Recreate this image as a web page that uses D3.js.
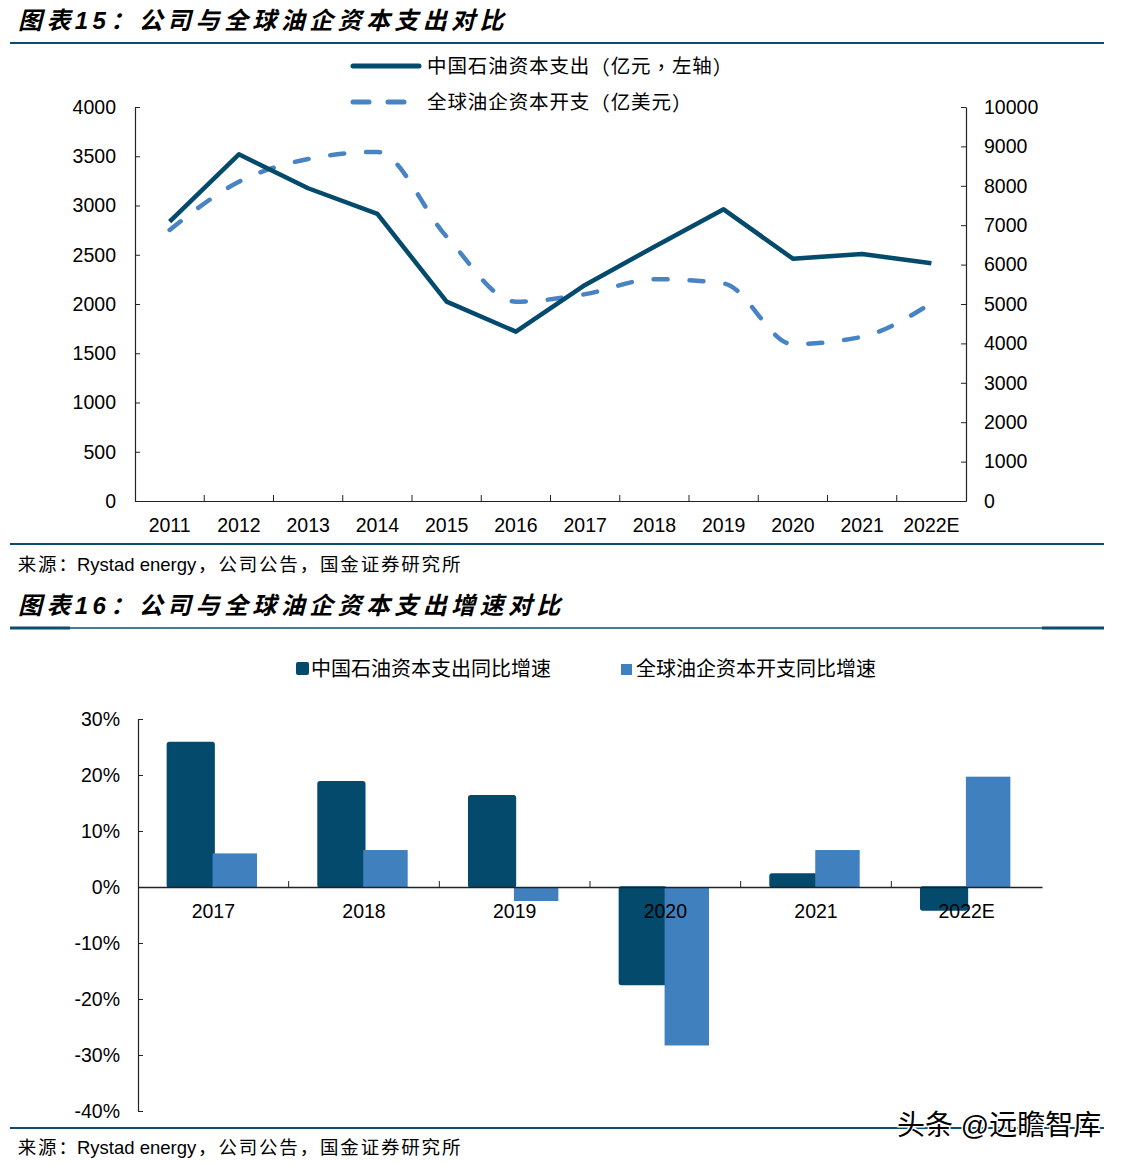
<!DOCTYPE html>
<html><head><meta charset="utf-8">
<script src="https://cdn.jsdelivr.net/npm/d3@7"></script>
<style>
body{margin:0;background:#fff;}
svg{display:block;}
text{font-family:"Liberation Sans","Noto Sans CJK SC",sans-serif;fill:#000;}
</style></head><body>
<svg id="c" width="1129" height="1164"></svg>
<script>
// ---- data ----
const years1 = ["2011","2012","2013","2014","2015","2016","2017","2018","2019","2020","2021","2022E"];
const petroChinaCapex = [2836,3520,3175,2914,2024,1719,2193,2582,2961,2460,2508,2413];   // 亿元, left axis
const globalCapex = [6880,8100,8680,8860,6710,5060,5250,5630,5520,3980,4170,5020];        // 亿美元, right axis
const leftTicks = [0,500,1000,1500,2000,2500,3000,3500,4000];
const rightTicks = [0,1000,2000,3000,4000,5000,6000,7000,8000,9000,10000];
const series1Names = ["中国石油资本支出（亿元，左轴）","全球油企资本开支（亿美元）"];

const years2 = ["2017","2018","2019","2020","2021","2022E"];
const petroChinaGrowth = [25.8,18.8,16.3,-17.4,2.3,-4.1];
const globalGrowth = [6.0,6.6,-2.5,-28.3,6.6,19.7];
const pctTicks = [-40,-30,-20,-10,0,10,20,30];
const series2Names = ["中国石油资本支出同比增速","全球油企资本开支同比增速"];

const title1 = "图表15：公司与全球油企资本支出对比";
const title2 = "图表16：公司与全球油企资本支出增速对比";
const sourceText = "来源：Rystad energy，公司公告，国金证券研究所";
const watermark = "头条 @远瞻智库";

const DARK = "#034a6c", LIGHT = "#4180bf", LINE2 = "#4884c4", RULE = "#0b4e72";
const svg = d3.select("#c");

// ---- headers / rules ----
function title(y, t){
  svg.append("text").attr("x",18).attr("y",y).attr("font-size",24).attr("font-weight","bold")
    .attr("font-style","italic").attr("letter-spacing",4.4).attr("dominant-baseline","central").text(t);
}
title(20, title1);
svg.append("line").attr("x1",10).attr("x2",1104).attr("y1",43).attr("y2",43).attr("stroke",RULE).attr("stroke-width",2);
svg.append("line").attr("x1",10).attr("x2",1104).attr("y1",544).attr("y2",544).attr("stroke",RULE).attr("stroke-width",2);
function source(y){
  const el = svg.append("text").attr("x",16).attr("y",y).attr("font-size",18.5)
    .attr("dominant-baseline","central").attr("fill","#111");
  for (const ch of sourceText){
    const ts = el.append("tspan").text(ch);
    if (ch.charCodeAt(0) > 255) ts.attr("dx",1.8);
  }
}
source(564);
title(605, title2);
svg.append("line").attr("x1",10).attr("x2",1104).attr("y1",628).attr("y2",628).attr("stroke",RULE).attr("stroke-width",1.5);
svg.append("line").attr("x1",10).attr("x2",70).attr("y1",628).attr("y2",628).attr("stroke",RULE).attr("stroke-width",3);
svg.append("line").attr("x1",1042).attr("x2",1104).attr("y1",628).attr("y2",628).attr("stroke",RULE).attr("stroke-width",3);
svg.append("line").attr("x1",10).attr("x2",1104).attr("y1",1128).attr("y2",1128).attr("stroke",RULE).attr("stroke-width",2);
source(1147);

// text with centred full-width punctuation (TC glyph forms for punctuation only)
function legendText(g, x, y, size, t){
  const el = g.append("text").attr("x",x).attr("y",y).attr("font-size",size).attr("letter-spacing",0.9)
    .attr("dominant-baseline","central");
  for (const ch of t){
    const ts = el.append("tspan").text(ch);
    if ("（），".includes(ch)) ts.attr("font-family","'Noto Sans CJK TC',sans-serif");
  }
}

// ---- chart 1 ----
const x1 = d3.scaleBand().domain(years1).range([135,966]).padding(0);
const yL = d3.scaleLinear().domain([0,4000]).range([501,107]);
const yR = d3.scaleLinear().domain([0,10000]).range([501,107]);
const g1 = svg.append("g");

const axL = g1.append("g").attr("transform","translate(135,0)")
  .call(d3.axisLeft(yL).tickValues(leftTicks).tickFormat(d3.format("d")).tickSizeInner(-5).tickSizeOuter(0).tickPadding(19));
const axR = g1.append("g").attr("transform","translate(966,0)")
  .call(d3.axisRight(yR).tickValues(rightTicks).tickFormat(d3.format("d")).tickSizeInner(-5).tickSizeOuter(0).tickPadding(18));
const axB = g1.append("g").attr("transform","translate(0,501)")
  .call(d3.axisBottom(x1).tickSize(0).tickPadding(17));
[axL,axR,axB].forEach(a=>{
  a.select(".domain").attr("stroke","#222").attr("stroke-width",1.2);
  a.selectAll(".tick line").attr("stroke","#222");
  a.selectAll("text").attr("font-size",19.5).attr("fill","#000")
   .attr("font-family","'Liberation Sans',sans-serif");
});
g1.selectAll(".bt").data(years1.slice(1)).join("line")
  .attr("x1",d=>x1(d)).attr("x2",d=>x1(d)).attr("y1",501).attr("y2",495).attr("stroke","#222");

const lineL = d3.line().x((d,i)=>x1(years1[i])+x1.bandwidth()/2).y(d=>yL(d));
const lineR = d3.line().x((d,i)=>x1(years1[i])+x1.bandwidth()/2).y(d=>yR(d)).curve(d3.curveMonotoneX);
g1.append("path").datum(globalCapex).attr("d",lineR).attr("fill","none").attr("stroke",LINE2)
  .attr("stroke-width",4.5).attr("stroke-dasharray","14,22").attr("stroke-linecap","round");
g1.append("path").datum(petroChinaCapex).attr("d",lineL).attr("fill","none").attr("stroke",DARK)
  .attr("stroke-width",4.5).attr("stroke-linejoin","round");

// legend 1
g1.append("line").attr("x1",353).attr("x2",419).attr("y1",66).attr("y2",66).attr("stroke",DARK).attr("stroke-width",5).attr("stroke-linecap","round");
g1.append("line").attr("x1",353).attr("x2",418).attr("y1",102).attr("y2",102).attr("stroke",LINE2).attr("stroke-width",5)
  .attr("stroke-linecap","round").attr("stroke-dasharray","16,19");
legendText(g1, 427, 66, 19.5, series1Names[0]);
legendText(g1, 427, 102, 19.5, series1Names[1]);

// ---- chart 2 ----
const x2 = d3.scaleBand().domain(years2).range([138,1042]).padding(0);
const y2 = d3.scaleLinear().domain([-40,30]).range([1111,719]);
const g2 = svg.append("g");
const bw = x2.bandwidth();

const ax2L = g2.append("g").attr("transform","translate(138,0)")
  .call(d3.axisLeft(y2).tickValues(pctTicks).tickSizeInner(-5).tickSizeOuter(0).tickPadding(18).tickFormat(d=>d+"%"));
ax2L.select(".domain").attr("stroke","#222").attr("stroke-width",1.2);
ax2L.selectAll(".tick line").attr("stroke","#222");
ax2L.selectAll("text").attr("font-size",19.5).attr("fill","#000").attr("font-family","'Liberation Sans',sans-serif");

g2.selectAll(".bd").data(petroChinaGrowth).join("rect")
  .attr("x",(d,i)=>x2(years2[i])+bw/2-0.305*bw).attr("width",0.31*bw)
  .attr("y",d=>y2(Math.max(0,d))).attr("height",d=>Math.abs(y2(d)-y2(0)))
  .attr("fill",DARK).attr("stroke",DARK).attr("stroke-width",1.5).attr("rx",2);
g2.selectAll(".bl").data(globalGrowth).join("rect")
  .attr("x",(d,i)=>x2(years2[i])+bw/2-0.005*bw).attr("width",0.295*bw)
  .attr("y",d=>y2(Math.max(0,d))).attr("height",d=>Math.abs(y2(d)-y2(0)))
  .attr("fill",LIGHT);

const ax2B = g2.append("g").attr("transform",`translate(0,${y2(0)})`)
  .call(d3.axisBottom(x2).tickSize(0).tickPadding(17));
ax2B.select(".domain").attr("stroke","#222").attr("stroke-width",1.5);
ax2B.selectAll("text").attr("font-size",19.5).attr("fill","#000").attr("font-family","'Liberation Sans',sans-serif");
g2.selectAll(".bt2").data(years2.slice(1)).join("line")
  .attr("x1",d=>x2(d)).attr("x2",d=>x2(d)).attr("y1",y2(0)).attr("y2",y2(0)-6).attr("stroke","#222");

// legend 2
g2.append("rect").attr("x",296).attr("y",662).attr("width",13).attr("height",13).attr("rx",2).attr("fill",DARK);
g2.append("text").attr("x",311).attr("y",669).attr("font-size",20).attr("dominant-baseline","central").text(series2Names[0]);
g2.append("rect").attr("x",621).attr("y",664).attr("width",11).attr("height",11).attr("fill",LIGHT);
g2.append("text").attr("x",636).attr("y",669).attr("font-size",20).attr("dominant-baseline","central").text(series2Names[1]);

// watermark
svg.append("text").attr("x",897).attr("y",1125).attr("font-size",28).attr("dominant-baseline","central")
  .attr("fill","#2a2a2a").attr("stroke","#fff").attr("stroke-width",3).attr("paint-order","stroke")
  .attr("font-family","'Noto Sans CJK SC',sans-serif").text(watermark);
</script></body></html>
